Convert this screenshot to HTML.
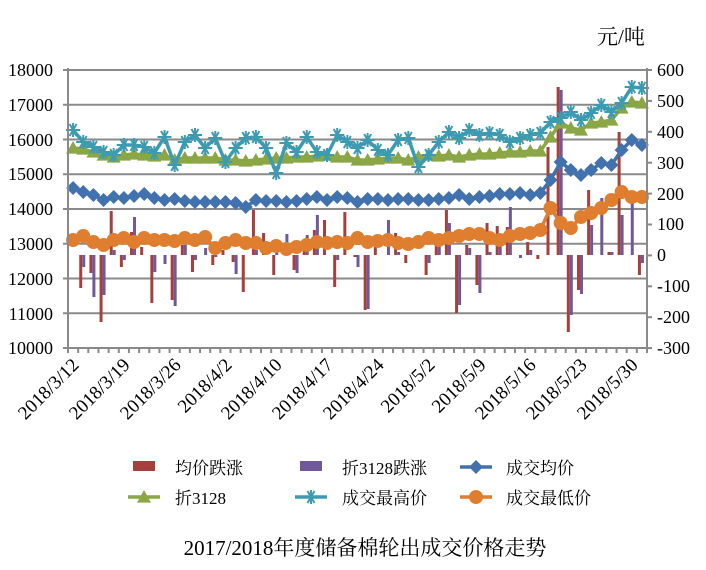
<!DOCTYPE html>
<html><head><meta charset="utf-8"><style>
body{margin:0;background:#fff;}
svg text{font-family:"Liberation Serif","Noto Serif CJK SC","Noto Sans CJK SC",serif;fill:#000;}
</style></head><body>
<svg id="s" width="706" height="565" viewBox="0 0 706 565" xmlns="http://www.w3.org/2000/svg">
<g id="grid"></g>
<g id="bars"></g>
<g id="lines"></g>
<g id="axes"></g>
<g font-size="18" text-anchor="end">
<text x="53" y="76">18000</text><text x="53" y="111">17000</text><text x="53" y="146">16000</text><text x="53" y="180">15000</text><text x="53" y="215">14000</text><text x="53" y="250">13000</text><text x="53" y="285">12000</text><text x="53" y="320">11000</text><text x="53" y="354">10000</text>
</g>
<g font-size="18" text-anchor="start">
<text x="657" y="76">600</text><text x="657" y="107">500</text><text x="657" y="138">400</text><text x="657" y="169">300</text><text x="657" y="200">200</text><text x="657" y="230">100</text><text x="657" y="261">0</text><text x="657" y="292">-100</text><text x="657" y="323">-200</text><text x="657" y="354">-300</text>
</g>
<text x="597" y="44" font-size="21">元/吨</text>
<g font-size="19" text-anchor="end">
<text transform="translate(80,366) rotate(-45)">2018/3/12</text>
<text transform="translate(131,366) rotate(-45)">2018/3/19</text>
<text transform="translate(182,366) rotate(-45)">2018/3/26</text>
<text transform="translate(233,366) rotate(-45)">2018/4/2</text>
<text transform="translate(283,366) rotate(-45)">2018/4/10</text>
<text transform="translate(334,366) rotate(-45)">2018/4/17</text>
<text transform="translate(385,366) rotate(-45)">2018/4/24</text>
<text transform="translate(436,366) rotate(-45)">2018/5/2</text>
<text transform="translate(487,366) rotate(-45)">2018/5/9</text>
<text transform="translate(537,366) rotate(-45)">2018/5/16</text>
<text transform="translate(588,366) rotate(-45)">2018/5/23</text>
<text transform="translate(639,366) rotate(-45)">2018/5/30</text>
</g>
<g id="legend"></g>
<g font-size="17">
<text x="175" y="474">均价跌涨</text>
<text x="342" y="474">折3128跌涨</text>
<text x="506" y="474">成交均价</text>
<text x="175" y="504">折3128</text>
<text x="342" y="504">成交最高价</text>
<text x="506" y="504">成交最低价</text>
</g>
<text x="365" y="555" font-size="21" text-anchor="middle">2017/2018年度储备棉轮出成交价格走势</text>
</svg>
<script>
const NS="http://www.w3.org/2000/svg";
function el(p,t,a){const e=document.createElementNS(NS,t);for(const k in a)e.setAttribute(k,a[k]);document.getElementById(p).appendChild(e);return e;}
const N=57,X0=68,X1=647,dx=(X1-X0)/N;const cx=i=>X0+(i+0.5)*dx;
for(let k=0;k<9;k++){const y=70+k*34.75;el('grid','line',{x1:X0,x2:X1,y1:y,y2:y,stroke:'#8a8a8a','stroke-width':2});}
el('axes','line',{x1:X0,x2:X0,y1:68,y2:349,stroke:'#8a8a8a','stroke-width':2});
el('axes','line',{x1:X1,x2:X1,y1:68,y2:349,stroke:'#8a8a8a','stroke-width':2});
for(let k=0;k<9;k++){const y=70+k*34.75;el('axes','line',{x1:X0-5,x2:X0,y1:y,y2:y,stroke:'#8a8a8a','stroke-width':2});}
for(let k=0;k<10;k++){const y=70+k*30.9;el('axes','line',{x1:X1,x2:X1+5,y1:y,y2:y,stroke:'#8a8a8a','stroke-width':2});}
for(let i=0;i<=N;i++){const x=X0+i*dx;el('axes','line',{x1:x,x2:x,y1:348,y2:353,stroke:'#8a8a8a','stroke-width':2});}
const Z=255;
const red=[0,33,18,67,-44,12,-23,-8,48,0,45,-10,17,0,10,-5,7,37,-45,-22,20,0,15,-5,-25,-35,32,-43,2,55,-8,0,-22,8,0,20,-12,-45,58,-10,30,-32,-29,-28,0,-13,4,-108,-168,77,35,-65,0,-3,-123,0,20];
const pur=[0,12,42,40,-5,5,-38,0,17,9,51,-10,5,-7,2,0,19,0,-5,0,-3,-21,18,-20,-40,0,5,0,12,54,0,-35,-3,0,0,8,-12,-32,50,-7,38,-3,-18,-48,3,-5,0,0,-165,60,39,-30,-57,-3,-40,-53,8];
for(let i=0;i<N;i++){
 const c=cx(i);
 let v=red[i];if(v)el('bars','rect',{x:c-4,y:Math.min(Z,Z+v),width:3,height:Math.abs(v),fill:'#A5403D'});
 v=pur[i];if(v)el('bars','rect',{x:c-1,y:Math.min(Z,Z+v),width:3,height:Math.abs(v),fill:'#71589B'});
}
const avg=[188,192,195,200,197,198,196,194,198,200,199,201,202,202,202,202,203,207,200,201,201,202,201,199,197,200,197,198,202,199,199,200,199,199,200,200,199,198,195,199,197,196,194,194,193,195,193,180,162,170,175,170,163,165,150,140,145];
const low=[240,236,242,245,240,238,242,238,240,240,241,238,240,237,248,243,240,243,243,248,246,249,247,245,242,243,242,243,238,242,241,240,243,244,242,238,240,238,236,234,234,238,240,236,234,233,230,208,223,228,217,213,208,200,192,197,197];
const zhe=[148,149,152,155,157,155,154,155,156,155,160,158,158,158,158,160,160,161,160,159,158,158,157,157,156,155,157,157,160,160,159,158,158,160,157,155,156,155,157,155,154,154,153,152,152,151,151,137,123,128,130,123,122,120,108,102,103];
const hi=[130,142,147,152,155,145,145,147,153,137,165,142,135,148,138,162,148,138,137,148,173,143,152,137,152,155,135,142,148,140,150,155,140,138,167,155,142,132,138,130,135,133,135,142,138,135,133,122,118,112,120,113,105,112,103,87,88];
function line(d,col){el('lines','polyline',{points:d.map((y,i)=>cx(i).toFixed(1)+','+y).join(' '),fill:'none',stroke:col,'stroke-width':3.5,'stroke-linejoin':'round'});}
function diamond(g,x,y,r,col){el(g,'polygon',{points:`${x},${y-r} ${x+r},${y} ${x},${y+r} ${x-r},${y}`,fill:col});}
function tri(g,x,y,r,col){el(g,'polygon',{points:`${x},${y-r} ${x+r},${y+r*0.8} ${x-r},${y+r*0.8}`,fill:col});}
function star(g,x,y,r,col){for(const a of [0,60,120]){const t=a*Math.PI/180;el(g,'line',{x1:x-r*Math.cos(t),y1:y-r*Math.sin(t),x2:x+r*Math.cos(t),y2:y+r*Math.sin(t),stroke:col,'stroke-width':2});}
 el(g,'line',{x1:x-r,y1:y,x2:x+r,y2:y,stroke:col,'stroke-width':2});el(g,'line',{x1:x,y1:y-r,x2:x,y2:y+r,stroke:col,'stroke-width':2});}
const B='#4272AE',G='#8AA645',C='#3D9BB1',O='#E07E2F';
line(zhe,G);zhe.forEach((y,i)=>tri('lines',cx(i),y,7,G));
line(hi,C);hi.forEach((y,i)=>star('lines',cx(i),y,7,C));
line(avg,B);avg.forEach((y,i)=>diamond('lines',cx(i),y,7,B));
line(low,O);low.forEach((y,i)=>el('lines','circle',{cx:cx(i),cy:y,r:7,fill:O}));
el('legend','rect',{x:133,y:461,width:22,height:10,fill:'#A5403D'});
el('legend','rect',{x:300,y:461,width:22,height:10,fill:'#71589B'});
el('legend','line',{x1:460,x2:492,y1:467,y2:467,stroke:B,'stroke-width':3.5});diamond('legend',476,467,7,B);
el('legend','line',{x1:128,x2:160,y1:497,y2:497,stroke:G,'stroke-width':3.5});tri('legend',144,497,7,G);
el('legend','line',{x1:295,x2:327,y1:497,y2:497,stroke:C,'stroke-width':3.5});star('legend',311,497,7,C);
el('legend','line',{x1:460,x2:492,y1:497,y2:497,stroke:O,'stroke-width':3.5});el('legend','circle',{cx:476,cy:497,r:7,fill:O});
</script>
</body></html>
